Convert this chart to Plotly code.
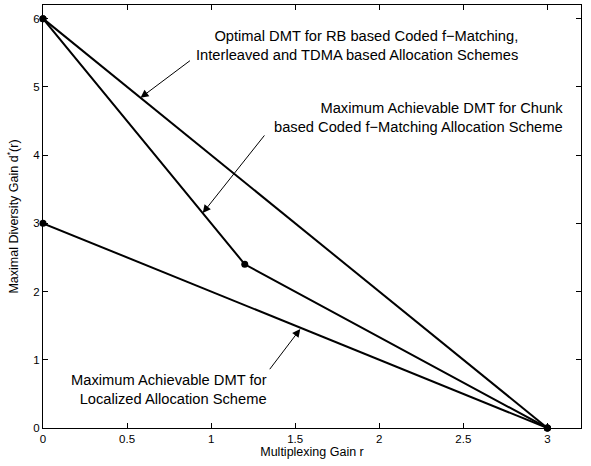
import plotly.graph_objects as go

# Data
r_optimal = [0, 3]
d_optimal = [6, 0]
r_chunk = [0, 1.2, 3]
d_chunk = [6, 2.4, 0]
r_local = [0, 3]
d_local = [3, 0]

x_ticks = [0, 0.5, 1, 1.5, 2, 2.5, 3]
y_ticks = [0, 1, 2, 3, 4, 5, 6]

label_opt = "Optimal DMT for RB based Coded f\u2212Matching,<br>Interleaved and TDMA based Allocation Schemes"
label_chunk = "Maximum Achievable DMT for Chunk<br>based Coded f\u2212Matching Allocation Scheme"
label_local = "Maximum Achievable DMT for<br>Localized Allocation Scheme"

FONT = "Liberation Sans, Arial, Helvetica, sans-serif"

fig = go.Figure()
for xs, ys in [(r_optimal, d_optimal), (r_chunk, d_chunk), (r_local, d_local)]:
    fig.add_trace(go.Scatter(x=xs, y=ys, mode="lines+markers",
                             line=dict(color="black", width=2),
                             marker=dict(color="black", size=7),
                             showlegend=False, cliponaxis=False))

# arrows (head on line, tail in data coords)
arrows = [
    ((0.58, 4.84), (0.883, 5.40)),
    ((0.95, 3.15), (1.324, 4.31)),
    ((1.53, 1.45), (1.342, 0.84)),
]
for (hx, hy), (tx, ty) in arrows:
    fig.add_annotation(x=hx, y=hy, ax=tx, ay=ty, xref="x", yref="y",
                       axref="x", ayref="y", text="", showarrow=True,
                       arrowhead=2, arrowsize=1.6, arrowwidth=1, arrowcolor="black")

texts = [
    (label_opt, 2.835, 5.6),
    (label_chunk, 3.105, 4.55),
    (label_local, 1.345, 0.57),
]
for t, x, y in texts:
    fig.add_annotation(x=x, y=y, xref="x", yref="y", text=t, showarrow=False,
                       xanchor="right", yanchor="middle", align="right",
                       font=dict(family=FONT, size=14.7, color="black"))

fig.update_layout(
    width=591, height=466,
    margin=dict(l=43, r=10, t=5, b=38),
    plot_bgcolor="white", paper_bgcolor="white",
    font=dict(family=FONT, size=11.5, color="black"),
)
fig.update_xaxes(range=[0, 3.2], tickvals=x_ticks, ticktext=[str(v) for v in x_ticks],
                 showgrid=False, zeroline=False, showline=True, linecolor="black",
                 linewidth=1, mirror="ticks", ticks="inside", ticklen=5,
                 tickcolor="black", tickfont=dict(size=11.5),
                 title=dict(text="Multiplexing Gain r", font=dict(size=12.5), standoff=2))
fig.update_yaxes(range=[0, 6.2], tickvals=y_ticks, ticktext=[str(v) for v in y_ticks],
                 showgrid=False, zeroline=False, showline=True, linecolor="black",
                 linewidth=1, mirror="ticks", ticks="inside", ticklen=5,
                 tickcolor="black", tickfont=dict(size=11.5),
                 title=dict(text="Maximal Diversity Gain d<sup>*</sup>(r)", font=dict(size=12.5), standoff=11))

fig.write_html("out.html", config={"displayModeBar": False},
               post_script="document.body.style.margin='0';document.body.style.overflow='hidden';")
